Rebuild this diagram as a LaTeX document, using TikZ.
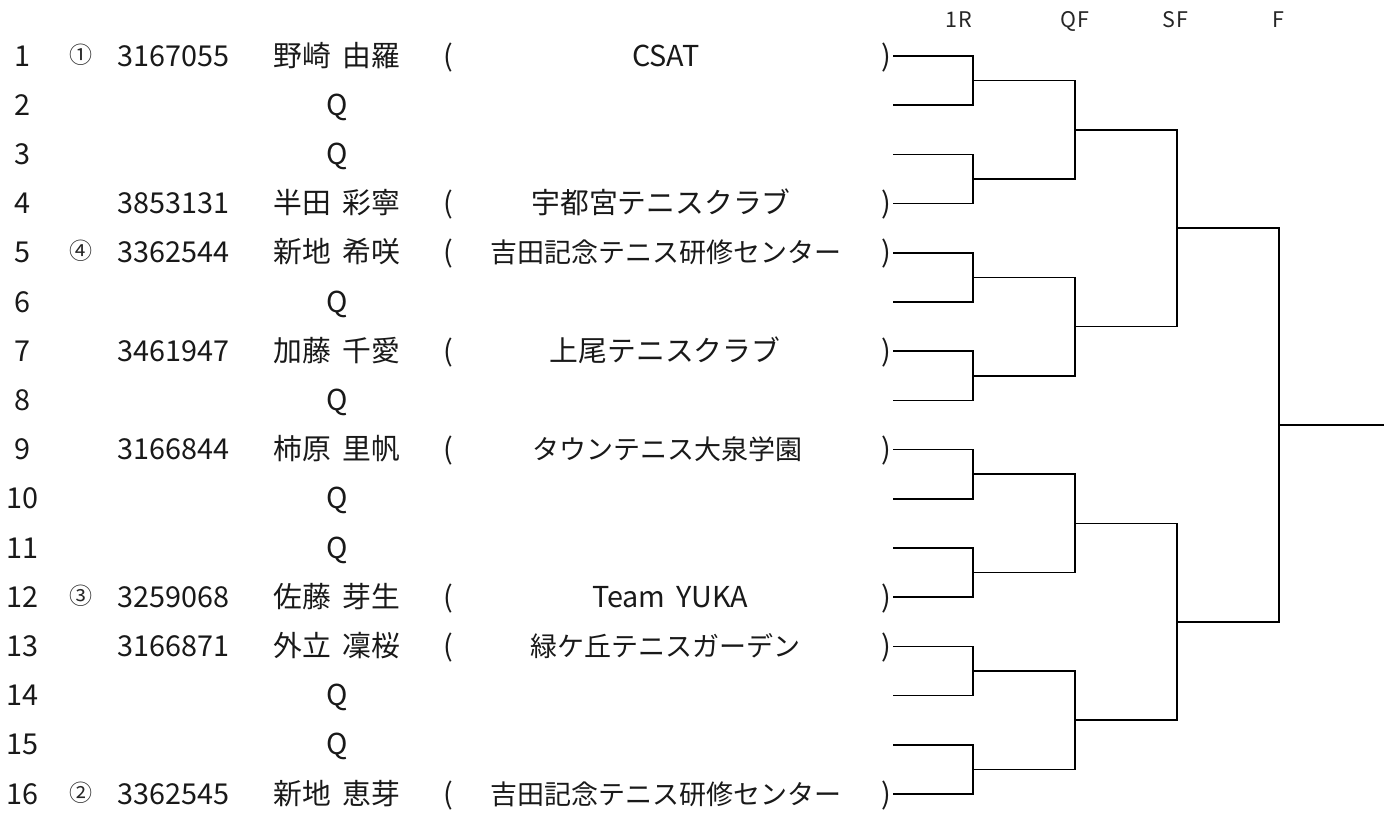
\documentclass[tikz,border=0pt]{standalone}
\usepackage{fontspec}
\setmainfont{Noto Sans CJK JP}[WordSpace=1.7]
\usetikzlibrary{calc}
\tikzset{
  txt/.style={anchor=base, inner sep=0pt, text=black!90, font=\fontsize{28.8}{30}\selectfont},
  clubL/.style={txt},
  clubS/.style={txt, font=\fontsize{27}{30}\selectfont},
  seedmark/.style={anchor=base, inner sep=0pt, text=black!85, font=\fontsize{23}{24}\selectfont},
  head/.style={anchor=base, inner sep=0pt, text=black!85, font=\fontsize{21.5}{24}\selectfont\addfontfeature{LetterSpace=5}},
  br/.style={line width=1.5pt, draw=black}
}
\begin{document}
\begin{tikzpicture}[x=1pt,y=-1pt]
\useasboundingbox (0,0) rectangle (1388,812);
% headers
\node[head] (h1) at (959,27.5) {1R};
\node[head] (h2) at (1074.5,27.5) {QF};
\node[head] (h3) at (1175,27.5) {SF};
\node[head] (h4) at (1278,27.5) {F};
% row numbers and bracket starts
\foreach \i in {1,...,16}{
  \pgfmathsetmacro\yy{56+49.2*(\i-1)}
  \node[txt] (n\i) at (22,\yy+10) {\i};
  \coordinate (a\i) at (893,\yy);
}
% players
\foreach \i/\sd/\id/\nm/\cl/\st/\cx in {
  1/①/3167055/野崎 由羅/CSAT/clubL/666,
  4//3853131/半田 彩寧/宇都宮テニスクラブ/clubL/661,
  5/④/3362544/新地 希咲/吉田記念テニス研修センター/clubS/666,
  7//3461947/加藤 千愛/上尾テニスクラブ/clubL/665,
  9//3166844/柿原 里帆/タウンテニス大泉学園/clubS/667,
  12/③/3259068/佐藤 芽生/Team YUKA/clubL/670,
  13//3166871/外立 凜桜/緑ケ丘テニスガーデン/clubS/665,
  16/②/3362545/新地 恵芽/吉田記念テニス研修センター/clubS/666}{
  \pgfmathsetmacro\yy{56+49.2*(\i-1)}
  \node[seedmark] (s\i) at (81,\yy+7) {\sd};
  \node[txt] (id\i) at (173.5,\yy+10) {\id};
  \node[txt] (nm\i) at (337,\yy+10) {\nm};
  \node[txt] (lp\i) at (448,\yy+10) {(};
  \node[\st] (cl\i) at (\cx,\yy+10) {\cl};
  \node[txt] (rp\i) at (886,\yy+10) {)};
}
% qualifiers
\foreach \i in {2,3,6,8,10,11,14,15}{
  \pgfmathsetmacro\yy{56+49.2*(\i-1)}
  \node[txt] (nm\i) at (337,\yy+10) {Q};
}
% bracket
\foreach \k [evaluate=\k as \p using int(2*\k-1), evaluate=\k as \q using int(2*\k)] in {1,...,8}{
  \coordinate (b\k) at ($(a\p)!0.5!(a\q)+(80,0)$);
  \draw[br] (a\p) -| (b\k) |- (a\q);
}
\foreach \k [evaluate=\k as \p using int(2*\k-1), evaluate=\k as \q using int(2*\k)] in {1,...,4}{
  \coordinate (c\k) at ($(b\p)!0.5!(b\q)+(102,0)$);
  \draw[br] (b\p) -| (c\k) |- (b\q);
}
\foreach \k [evaluate=\k as \p using int(2*\k-1), evaluate=\k as \q using int(2*\k)] in {1,2}{
  \coordinate (d\k) at ($(c\p)!0.5!(c\q)+(102,0)$);
  \draw[br] (c\p) -| (d\k) |- (c\q);
}
\coordinate (e1) at ($(d1)!0.5!(d2)+(102,0)$);
\draw[br] (d1) -| (e1) |- (d2);
\coordinate (fin) at ($(e1)+(105,0)$);
\draw[br] (e1) -- (fin);
\end{tikzpicture}
\end{document}
